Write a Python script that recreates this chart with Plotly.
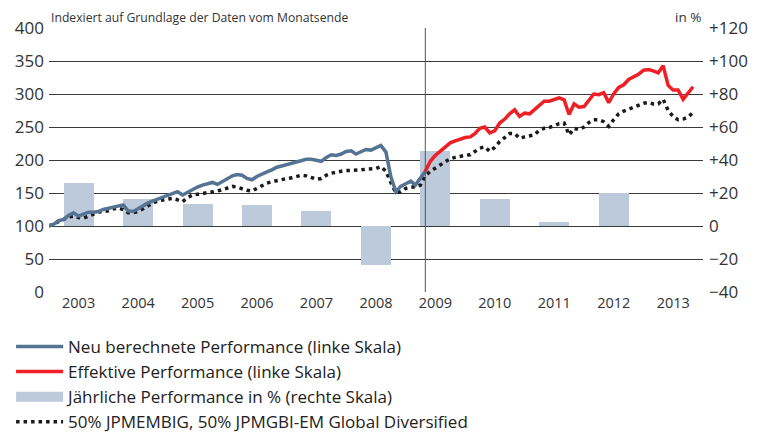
import pandas as pd
import plotly.graph_objects as go

# ---- data ----
months = pd.date_range("2003-01-01", periods=131, freq="MS")

neu_berechnet = [
    100, 103, 108, 110, 116, 120, 115, 118, 121, 121,
    122, 125, 127, 128, 130, 132, 123, 122, 126, 131,
    135, 138, 141, 144, 147, 150, 152, 147, 151, 156,
    159, 162, 164, 166, 163, 167, 172, 176, 178, 177,
    172, 170, 175, 179, 182, 185, 189, 191, 193, 195,
    197, 199, 201, 201, 200, 198, 204, 208, 207, 209,
    213, 214, 209, 213, 216, 215, 218, 222, 212, 175,
    152, 160, 164, 168, 162, 172, 183,
]

effektiv = [
    183, 198, 207, 214, 221, 226, 229, 232, 234, 235,
    240, 248, 250, 241, 244, 256, 262, 270, 276, 266,
    271, 270, 276, 282, 289, 289, 291, 294, 291, 269,
    285, 280, 281, 292, 300, 299, 302, 287, 300, 310,
    314, 322, 326, 330, 336, 337, 335, 332, 343, 313,
    306, 306, 292, 302, 311,
]

benchmark = [
    100, 103, 106, 110, 114, 115, 113, 112, 115, 118,
    121, 122, 123, 126, 127, 125, 120, 120, 122, 126,
    131, 135, 138, 140, 141, 142, 140, 137, 143, 147,
    148, 149, 150, 151, 153, 155, 158, 160, 159, 156,
    154, 153, 157, 162, 165, 167, 169, 171, 172, 173,
    175, 177, 176, 174, 171, 172, 177, 180, 182, 183,
    184, 184, 184, 185, 186, 186, 187, 190, 183, 166,
    150, 152, 157, 159, 159, 162, 176, 183, 188, 193,
    198, 202, 204, 206, 207, 208, 213, 218, 220, 213,
    219, 228, 234, 240, 240, 233, 235, 236, 238, 245,
    248, 249, 252, 255, 256, 238, 248, 246, 250, 257,
    261, 261, 258, 251, 261, 270, 274, 277, 280, 284,
    286, 287, 285, 285, 292, 275, 266, 261, 262, 265,
    272,
]

years = [2003, 2004, 2005, 2006, 2007, 2008, 2009, 2010, 2011, 2012]
annual_pct = [26, 16.5, 13.5, 13, 9, -23.5, 45.5, 16.5, 2.5, 20]

year_labels = ["2003", "2004", "2005", "2006", "2007", "2008",
               "2009", "2010", "2011", "2012", "2013"]
left_ticks = [0, 50, 100, 150, 200, 250, 300, 350, 400]
right_ticks = [-40, -20, 0, 20, 40, 60, 80, 100, 120]
right_labels = ["\u221240", "\u221220", "0", "+20", "+40", "+60", "+80", "+100", "+120"]

launch_date = "2009-05-01"

# ---- figure ----
FONT = "Open Sans"
BAR_COLOR = "#bccadb"
bar_x = [f"{y}-07-02" for y in years]
label_x = [f"{y}-07-02" for y in year_labels]

fig = go.Figure()

fig.add_trace(go.Bar(
    x=bar_x, y=annual_pct, yaxis="y",
    width=1.59e10,
    marker=dict(color=BAR_COLOR, line=dict(width=0)),
    name="Jährliche Performance in % (rechte Skala)",
    showlegend=False,
))

fig.add_trace(go.Scatter(
    x=months[:len(benchmark)], y=benchmark, yaxis="y2", mode="lines",
    line=dict(color="#1a1a1a", width=3.5, dash="3.5px,4px"),
    name="50% JPMEMBIG, 50% JPMGBI-EM Global Diversified",
    legendrank=4,
))

fig.add_trace(go.Scatter(
    x=months[:len(neu_berechnet)], y=neu_berechnet, yaxis="y2", mode="lines",
    line=dict(color="#557393", width=3.5),
    name="Neu berechnete Performance (linke Skala)",
    legendrank=1,
))

fig.add_trace(go.Scatter(
    x=months[76:76 + len(effektiv)], y=effektiv, yaxis="y2", mode="lines",
    line=dict(color="#ee2026", width=3.5),
    name="Effektive Performance (linke Skala)",
    legendrank=2,
))

# legend entry for the bars (wide swatch like the reference)
fig.add_trace(go.Scatter(
    x=[None], y=[None], yaxis="y2", mode="lines",
    line=dict(color=BAR_COLOR, width=11),
    name="Jährliche Performance in % (rechte Skala)",
    legendrank=3,
))

fig.add_shape(type="line", xref="x", yref="paper",
              x0=launch_date, x1=launch_date, y0=0, y1=1,
              line=dict(color="#555555", width=1))

# the page adds an 8px body margin, so the figure is 8px smaller
fig.update_layout(
    width=757, height=428,
    margin=dict(l=41, r=62, t=20, b=144, autoexpand=False),
    paper_bgcolor="white", plot_bgcolor="white",
    font=dict(family=FONT, color="#222222"),
    bargap=0,
    xaxis=dict(
        range=["2003-01-01", "2014-01-01"], automargin=False,
        tickmode="array", tickvals=label_x, ticktext=year_labels,
        showgrid=False, ticks="", showline=False, zeroline=False,
        tickfont=dict(size=14.5, color="#333333"),
    ),
    yaxis=dict(
        side="right", range=[-40, 120], automargin=False,
        tickmode="array", tickvals=right_ticks, ticktext=right_labels,
        showgrid=True, gridcolor="#3a3a3a", gridwidth=1,
        zeroline=False, showline=False, ticks="",
        tickfont=dict(size=17, color="#333333"), ticklabelstandoff=5,
    ),
    yaxis2=dict(
        side="left", overlaying="y", range=[0, 400], automargin=False,
        tickmode="array", tickvals=left_ticks,
        showgrid=False, zeroline=False, showline=False, ticks="",
        tickfont=dict(size=17, color="#333333"), ticklabelstandoff=4,
    ),
    legend=dict(
        x=-0.058, xanchor="left", y=-0.14, yanchor="top",
        orientation="v", font=dict(size=17, color="#222222"),
        bgcolor="rgba(0,0,0,0)", traceorder="normal",
        itemwidth=47,
    ),
    showlegend=True,
    annotations=[
        dict(text="Indexiert auf Grundlage der Daten vom Monatsende",
             x=0, y=1, xref="paper", yref="paper", xanchor="left", yanchor="bottom",
             showarrow=False, font=dict(size=12.2, color="#333333"), yshift=0),
        dict(text="in %", x=1, y=1, xref="paper", yref="paper",
             xanchor="right", yanchor="bottom",
             showarrow=False, font=dict(size=13.5, color="#333333"), yshift=0),
    ],
)

fig.write_html("out.html")
